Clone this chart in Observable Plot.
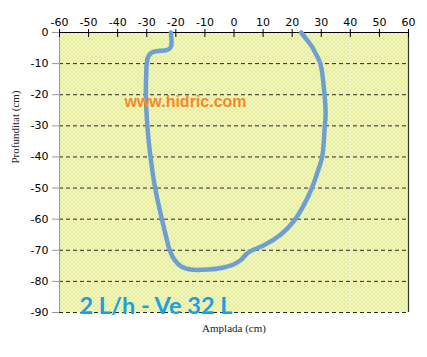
<!DOCTYPE html>
<html><head><meta charset="utf-8">
<script src="https://cdn.jsdelivr.net/npm/d3@7"></script>
<script src="https://cdn.jsdelivr.net/npm/@observablehq/plot@0.6"></script>
<style>body{margin:0;background:#fff}</style>
</head><body><div id="chart"></div>
<script>
const xTicks = [-60, -50, -40, -30, -20, -10, 0, 10, 20, 30, 40, 50, 60];
const yTicks = [0, -10, -20, -30, -40, -50, -60, -70, -80, -90];
const gridY = [-10, -20, -30, -40, -50, -60, -70, -80, -90];
const lightGridX = [40];
// wetting-bulb contour, traced from the left top around the bottom to the right top
const bulbX = [-21.7, -21.5, -21.6, -22.3, -24, -26.5, -28.3, -29.5, -30, -30.2, -30.3, -29.8, -28.7, -27.1, -24.8, -23.5, -22.1, -20.5, -18, -15, -9, -4, 0, 2.5, 4.5, 6.5, 10.3, 16, 20.6, 24, 26.9, 28.5, 30.3, 31.2, 31.5, 31.1, 29.7, 28.2, 26.9, 25, 23.1];
const bulbY = [0, -2.5, -4.3, -5.3, -5.8, -6, -6.5, -7.8, -10, -14, -20, -30, -40, -50, -60, -65, -70, -73, -75.3, -76.2, -76.2, -75.6, -74.5, -73, -71, -69.9, -68.4, -65, -60.6, -55.5, -49.7, -45.5, -40, -30.4, -26, -19.7, -10, -7, -4.7, -2.3, 0];
const watermark = "www.hidric.com";
const seriesLabel = "2 L/h - Ve 32 L";
const xTitle = "Amplada (cm)";
const yTitle = "Profunditat (cm)";

const contour = bulbX.map((x, i) => ({x, y: bulbY[i]}));
const fmt = d => String(d);

const plot = Plot.plot({
  width: 427, height: 357,
  marginTop: 32, marginLeft: 59, marginRight: 19, marginBottom: 45,
  x: {domain: [-60, 60]},
  y: {domain: [-90, 0]},
  style: {fontFamily: "DejaVu Sans", fontSize: "11px", background: "#fff", color: "#000", overflow: "visible"},
  marks: [
    Plot.frame({fill: "url(#dots)", stroke: "none"}),
    Plot.ruleX(lightGridX, {stroke: "#fff", strokeDasharray: "1,2", strokeWidth: 1.2}),
    Plot.ruleY(gridY, {stroke: "#2a2a2a", strokeDasharray: "4,3", strokeWidth: 1}),
    Plot.ruleX([60], {stroke: "#333", strokeWidth: 1.2}),
    Plot.ruleX([-60], {stroke: "#999"}),
    Plot.ruleY([0], {stroke: "#000", strokeWidth: 1.2}),
    Plot.axisX(xTicks, {anchor: "top", tickSize: 4, tickPadding: 3, tickFormat: fmt, label: null, stroke: "#000"}),
    Plot.ruleX(xTicks, {y1: 0, y2: -1.6, stroke: "#000"}),
    Plot.axisY(yTicks, {anchor: "left", tickSize: 7, tickPadding: 4, tickFormat: fmt, label: null, stroke: "#999"}),
    Plot.line(contour, {x: "x", y: "y", stroke: "#6d9fd1", strokeWidth: 4.5, curve: "catmull-rom", strokeLinejoin: "round", strokeLinecap: "round"}),
    Plot.text([watermark], {frameAnchor: "top-left", dx: 126, dy: 69, textAnchor: "middle", lineAnchor: "middle", fill: "#f5892a", fontWeight: "bold", fontSize: 16, fontFamily: "Liberation Sans"}),
    Plot.text([seriesLabel], {frameAnchor: "bottom-left", dx: 20, dy: 1, textAnchor: "start", lineAnchor: "bottom", fill: "#1aa0e2", fontWeight: "bold", fontSize: 23.5, fontFamily: "Lato"}),
    Plot.text([xTitle], {frameAnchor: "bottom", dy: 16, lineAnchor: "middle", fontFamily: "Liberation Serif", fontSize: 11, fill: "#222"}),
    Plot.text([yTitle], {frameAnchor: "left", dx: -44, dy: -9, rotate: -90, lineAnchor: "middle", fontFamily: "Liberation Serif", fontSize: 11, fill: "#222"})
  ]
});

d3.select(plot).insert("defs", ":first-child").html(
  '<pattern id="dots" width="4" height="4" patternUnits="userSpaceOnUse">' +
  '<rect width="4" height="4" fill="#f6f8b8"/>' +
  '<rect x="1" y="1" width="1" height="1" fill="#a9c66e"/>' +
  '<rect x="3" y="3" width="1" height="1" fill="#a9c66e"/>' +
  '</pattern>');

document.getElementById("chart").appendChild(plot);
</script>
</body></html>
